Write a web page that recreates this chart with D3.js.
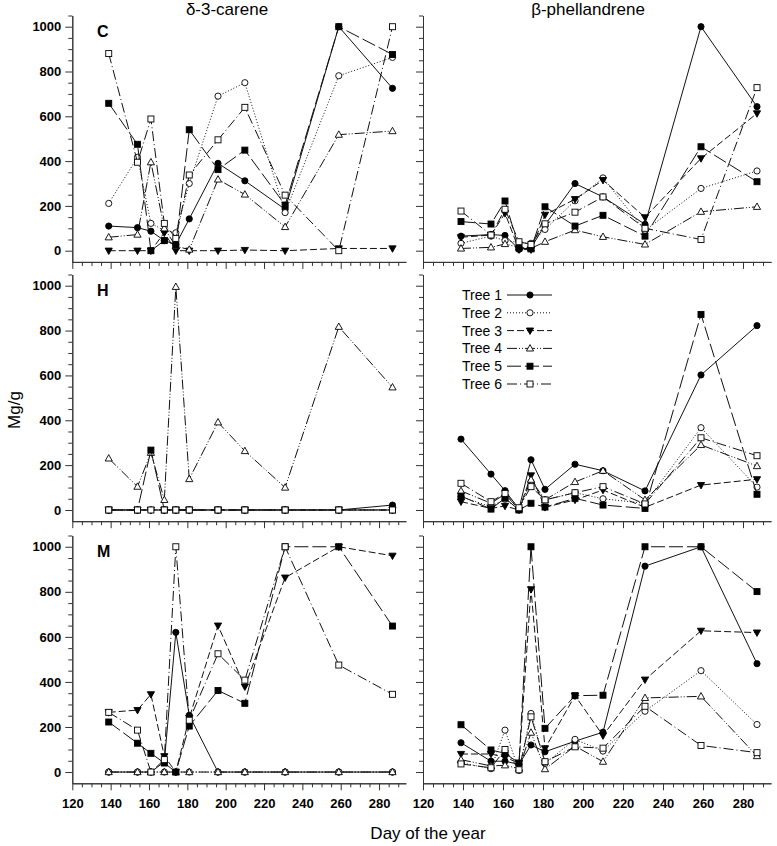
<!DOCTYPE html>
<html><head><meta charset="utf-8">
<script src="https://cdn.jsdelivr.net/npm/d3@7"></script>
<style>body{margin:0;background:#fff}svg{display:block}</style>
</head><body>
<script>
// ---------- data ----------
const days = [139, 154, 161, 168, 174, 181, 196, 210, 231, 259, 287];
const treeNames = ["Tree 1", "Tree 2", "Tree 3", "Tree 4", "Tree 5", "Tree 6"];
const compounds = ["δ-3-carene", "β-phellandrene"];
const rowLetters = ["C", "H", "M"];
const xTickValues = [120, 140, 160, 180, 200, 220, 240, 260, 280];
const yTickValues = [0, 200, 400, 600, 800, 1000];

// δ-3-carene, C
const careneC = [
  [110, 103, 87, 45, 28, 142, 390, 312, 185, 1000, 725],
  [211, 417, 122, 90, 80, 300, 690, 750, 170, 781, 863],
  [0, 0, 0, 80, 0, 0, 0, 3, 0, 10, 10],
  [60, 72, 395, 100, 20, 5, 318, 251, 106, 518, 534],
  [658, 475, 0, 45, 25, 540, 362, 449, 204, 1000, 876],
  [880, 395, 588, 122, 55, 338, 495, 640, 248, 0, 1000]
];
// β-phellandrene, C
const phellC = [
  [65, 72, 68, 6, 12, 115, 300, 240, 118, 1000, 643],
  [33, 65, 45, 37, 33, 95, 223, 325, 90, 278, 356],
  [60, 70, 167, 5, 5, 160, 230, 315, 149, 412, 613],
  [10, 15, 30, 15, 10, 40, 92, 62, 28, 174, 196],
  [130, 119, 222, 12, 8, 196, 110, 158, 65, 464, 308],
  [177, 70, 185, 40, 28, 120, 172, 240, 100, 50, 728]
];
// δ-3-carene, H
const careneH = [
  [0, 0, 0, 0, 0, 0, 0, 0, 0, 0, 22],
  [0, 0, 0, 0, 0, 0, 0, 0, 0, 0, 0],
  [0, 0, 0, 0, 0, 0, 0, 0, 0, 0, 0],
  [230, 104, 255, 45, 995, 138, 391, 263, 100, 817, 547],
  [0, 0, 267, 0, 0, 0, 0, 0, 0, 0, 0],
  [0, 0, 0, 0, 0, 0, 0, 0, 0, 0, 0]
];
// β-phellandrene, H
const phellH = [
  [316, 160, 86, 5, 224, 92, 204, 175, 85, 602, 822],
  [59, 15, 48, 3, 125, 45, 77, 50, 30, 367, 102],
  [37, 7, 18, 0, 154, 12, 45, 89, 12, 111, 137],
  [85, 30, 71, 2, 135, 45, 125, 175, 45, 290, 196],
  [62, 4, 53, 0, 30, 13, 52, 22, 7, 872, 70],
  [119, 37, 74, 10, 104, 45, 77, 104, 27, 322, 242]
];
// δ-3-carene, M
const careneM = [
  [0, 0, 0, 45, 620, 252, 0, 0, 0, 0, 0],
  [0, 0, 0, 0, 0, 0, 0, 0, 0, 0, 0],
  [265, 275, 345, 70, 0, 240, 650, 379, 863, 1000, 960],
  [0, 0, 0, 0, 0, 0, 0, 0, 0, 0, 0],
  [222, 128, 83, 40, 0, 204, 362, 305, 1000, 1000, 648],
  [265, 186, 0, 55, 1000, 230, 525, 408, 1000, 475, 345]
];
// β-phellandrene, M
const phellM = [
  [130, 48, 48, 34, 120, 90, 137, 177, 914, 1000, 481],
  [41, 15, 186, 7, 260, 38, 145, 93, 270, 450, 211],
  [80, 80, 65, 40, 811, 105, 339, 162, 410, 627, 619],
  [55, 27, 30, 15, 175, 13, 115, 46, 329, 336, 71],
  [210, 98, 83, 40, 1000, 194, 339, 341, 1000, 1000, 801],
  [36, 19, 100, 10, 245, 46, 112, 106, 292, 118, 86]
];

// ---------- layout ----------
const FONT = "Arial, 'Liberation Sans', sans-serif";
const svg = d3.select("body").append("svg").attr("width", 777).attr("height", 846)
  .style("font-family", FONT);

const rows = [
  {top: 15.5, bottom: 261.9},
  {top: 274.5, bottom: 521.2},
  {top: 535.5, bottom: 783.3}
];
const cols = [{x0: 72.3, x1: 405.9}, {x0: 423, x1: 771}];
const panelData = [[careneC, phellC], [careneH, phellH], [careneM, phellM]];

const styles = [
  {dash: null, sym: "circle", fill: "#000"},
  {dash: "1,2", sym: "circle", fill: "#fff"},
  {dash: "7,3", sym: "down", fill: "#000"},
  {dash: "10,2,1,2,1,2", sym: "up", fill: "#fff"},
  {dash: "14,4", sym: "square", fill: "#000"},
  {dash: "10,3,1,3", sym: "square", fill: "#fff"}
];

function drawMarker(g, sym, fill, cx, cy) {
  let el;
  if (sym === "circle") {
    el = g.append("circle").attr("cx", cx).attr("cy", cy).attr("r", 3.1);
  } else if (sym === "square") {
    el = g.append("rect").attr("x", cx - 3).attr("y", cy - 3).attr("width", 6).attr("height", 6);
  } else if (sym === "up") {
    el = g.append("path").attr("d", `M${cx},${cy - 3.8}L${cx + 3.6},${cy + 2.6}L${cx - 3.6},${cy + 2.6}Z`);
  } else {
    el = g.append("path").attr("d", `M${cx},${cy + 3.8}L${cx + 3.6},${cy - 2.6}L${cx - 3.6},${cy - 2.6}Z`);
  }
  el.attr("stroke", "#000").attr("stroke-width", 0.9).attr("fill", fill);
}

rows.forEach((row, ri) => {
  cols.forEach((col, ci) => {
    const x = d3.scaleLinear().domain([120, 294]).range([col.x0, col.x1]);
    const y = d3.scaleLinear().domain([-50, 1050]).range([row.bottom, row.top]);
    const g = svg.append("g");

    // y axis: minor + major
    const minors = d3.range(50, 1051, 50).filter(v => v % 200 !== 0);
    g.append("g").attr("transform", `translate(${col.x0},0)`)
      .call(d3.axisLeft(y).tickValues(minors).tickSize(4).tickSizeOuter(0).tickFormat(""));
    const yMajor = g.append("g").attr("transform", `translate(${col.x0},0)`)
      .call(d3.axisLeft(y).tickValues(yTickValues).tickSize(7).tickSizeOuter(0).tickPadding(4)
        .tickFormat(ci === 0 ? d3.format("d") : ""));
    yMajor.selectAll("text").attr("font-size", 13).attr("font-weight", "bold").attr("font-family", FONT).attr("fill", "#000");

    // x axis
    const xMinors = d3.range(125, 294, 5).filter(v => v % 20 !== 0);
    g.append("g").attr("transform", `translate(0,${row.bottom})`)
      .call(d3.axisBottom(x).tickValues(xMinors).tickSize(4).tickSizeOuter(0).tickFormat(""));
    const xMajor = g.append("g").attr("transform", `translate(0,${row.bottom})`)
      .call(d3.axisBottom(x).tickValues(xTickValues).tickSize(7).tickSizeOuter(0).tickPadding(8)
        .tickFormat(ri === 2 ? d3.format("d") : ""));
    xMajor.selectAll("text").attr("font-size", 13).attr("font-weight", "bold").attr("font-family", FONT).attr("fill", "#000");
    g.selectAll(".domain").attr("stroke", "#333").attr("stroke-width", 1);
    g.selectAll(".tick line").attr("stroke", "#333");

    // series
    const data = panelData[ri][ci];
    data.forEach((vals, ti) => {
      const s = styles[ti];
      const pts = vals.map((v, i) => [x(days[i]), y(v)]);
      g.append("path").attr("d", d3.line()(pts)).attr("fill", "none")
        .attr("stroke", "#111").attr("stroke-width", 1)
        .attr("stroke-dasharray", s.dash);
      pts.forEach(p => drawMarker(g, s.sym, s.fill, p[0], p[1]));
    });

    // panel letter
    if (ci === 0) {
      g.append("text").attr("x", 97).attr("y", row.top + 21).attr("font-size", 16)
        .attr("font-weight", "bold").text(rowLetters[ri]);
    }
  });
});

// titles
svg.append("text").attr("x", 227).attr("y", 15).attr("text-anchor", "middle")
  .attr("font-size", 17).text(compounds[0]);
svg.append("text").attr("x", 588).attr("y", 15).attr("text-anchor", "middle")
  .attr("font-size", 17).text(compounds[1]);

// axis titles
svg.append("text").attr("x", 428).attr("y", 839).attr("text-anchor", "middle")
  .attr("font-size", 17).text("Day of the year");
svg.append("text").attr("transform", "translate(20,410) rotate(-90)").attr("text-anchor", "middle")
  .attr("font-size", 17).text("Mg/g");

// legend
const lg = svg.append("g");
treeNames.forEach((name, i) => {
  const cy = 295 + i * 17.8;
  const s = styles[i];
  lg.append("text").attr("x", 462).attr("y", cy).attr("dy", "0.35em")
    .attr("font-size", 14).text(name);
  lg.append("line").attr("x1", 507).attr("x2", 552).attr("y1", cy).attr("y2", cy)
    .attr("stroke", "#111").attr("stroke-width", 1).attr("stroke-dasharray", s.dash);
  drawMarker(lg, s.sym, s.fill, 530, cy);
});
</script>
</body></html>
